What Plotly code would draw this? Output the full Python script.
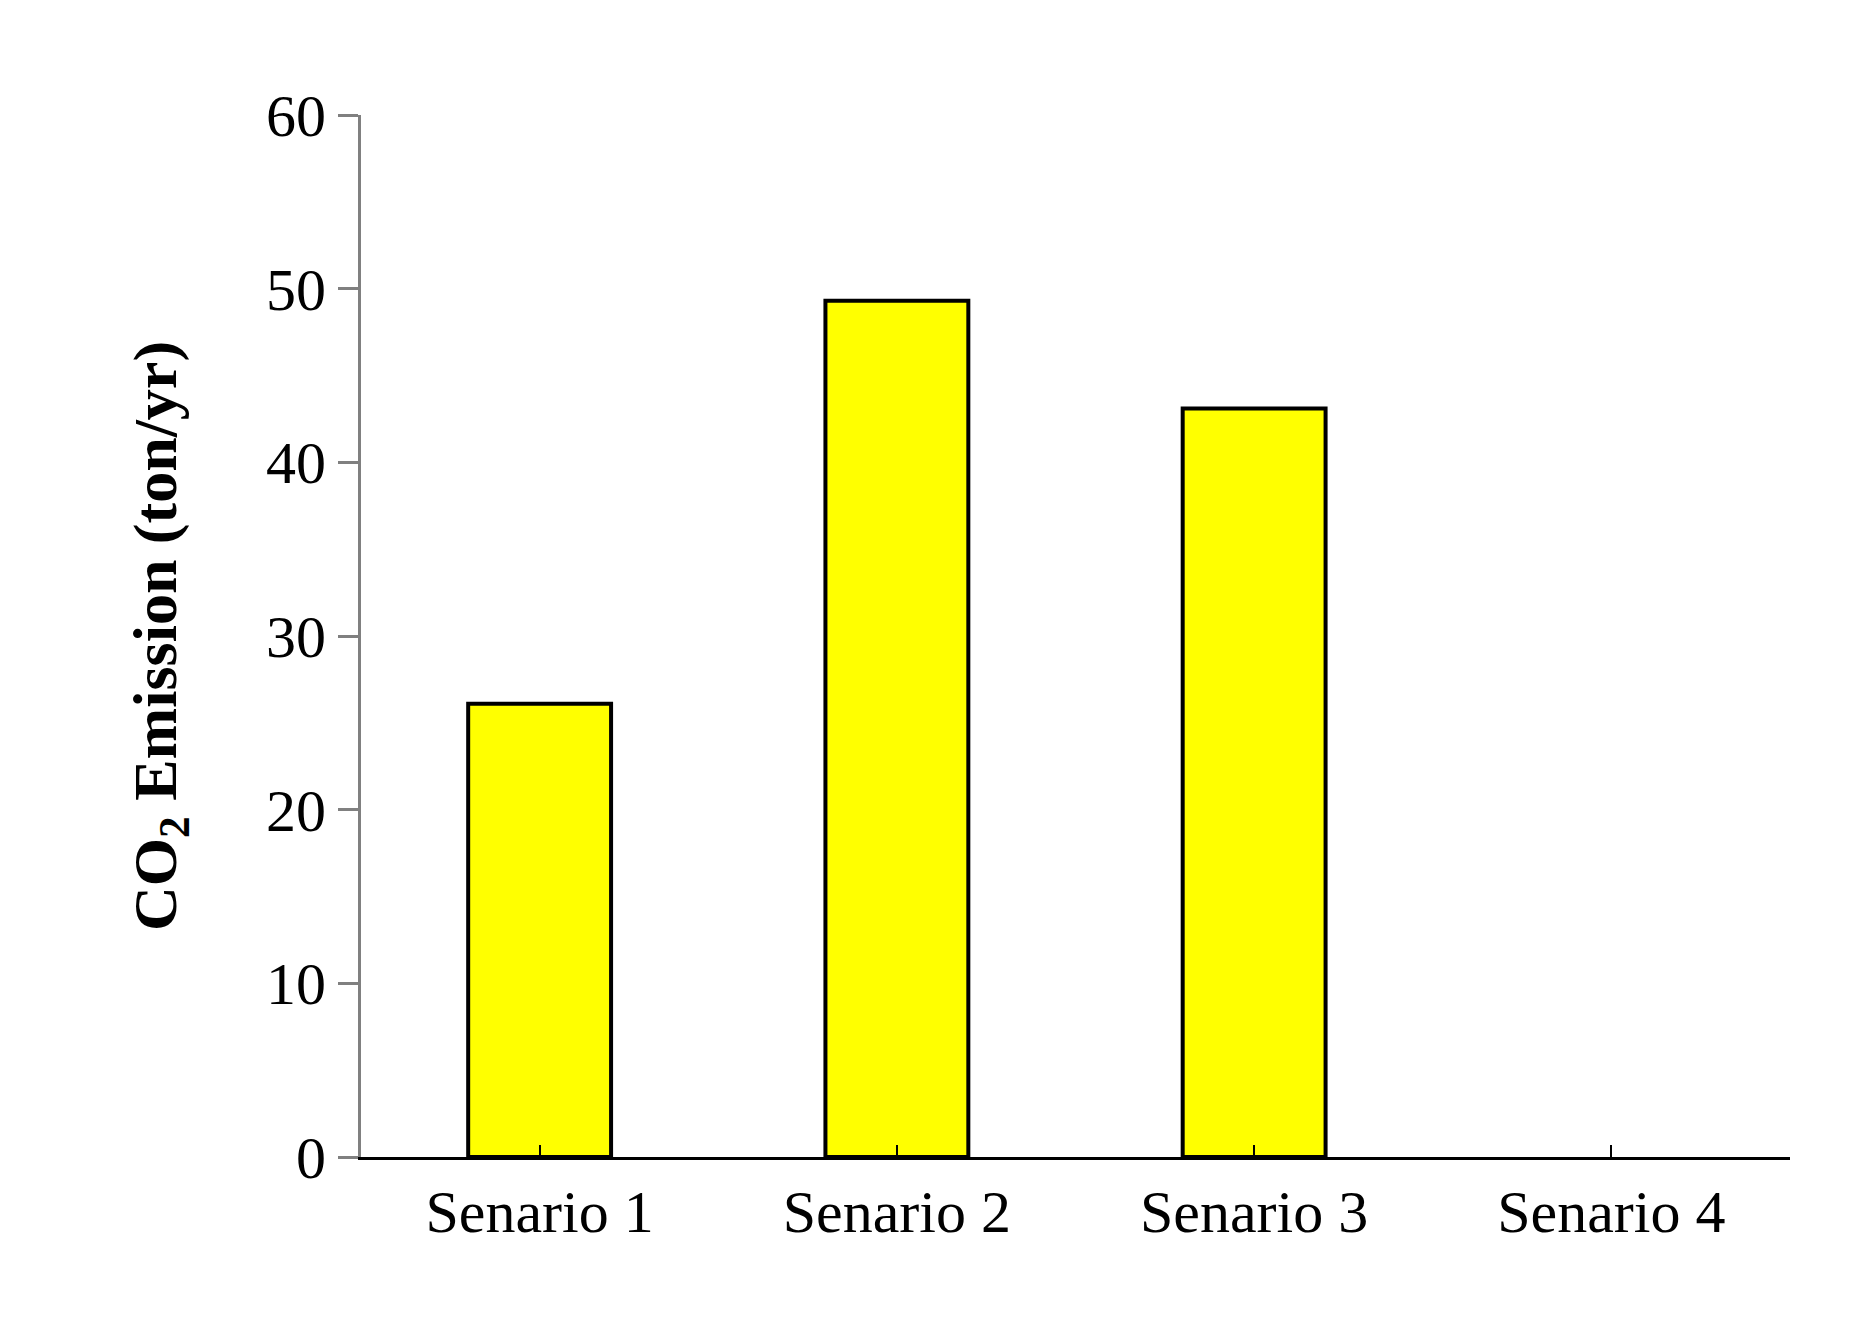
import plotly.graph_objects as go

categories = ["Senario 1", "Senario 2", "Senario 3", "Senario 4"]
values = [26.1, 49.3, 43.1, 0]

line_colors = ["black" if v > 0 else "rgba(0,0,0,0)" for v in values]
fig = go.Figure(go.Bar(x=categories, y=values, width=0.4,
                       marker=dict(color="#FFFF00", line=dict(color=line_colors, width=4))))
font = dict(family="Liberation Serif", size=60, color="black")
fig.update_layout(
    width=1870, height=1331, plot_bgcolor="white", paper_bgcolor="white",
    margin=dict(l=353, r=88, t=107, b=182), showlegend=False, font=font,
    xaxis=dict(showline=True, linecolor="black", linewidth=3, ticks="inside",
               ticklen=12, tickwidth=2, tickcolor="black", tickfont=font),
    yaxis=dict(range=[0, 60], dtick=10, showline=True, linecolor="#808080", linewidth=3,
               ticks="outside", ticklen=20, tickwidth=3, tickcolor="#808080",
               showgrid=False, zeroline=False, tickfont=font,
               title=dict(text="<b>CO<sub>2</sub> Emission (ton/yr)</b>",
                          font=dict(family="Liberation Serif", size=62, color="black"), standoff=70)),
)
fig.write_html("out.html")
